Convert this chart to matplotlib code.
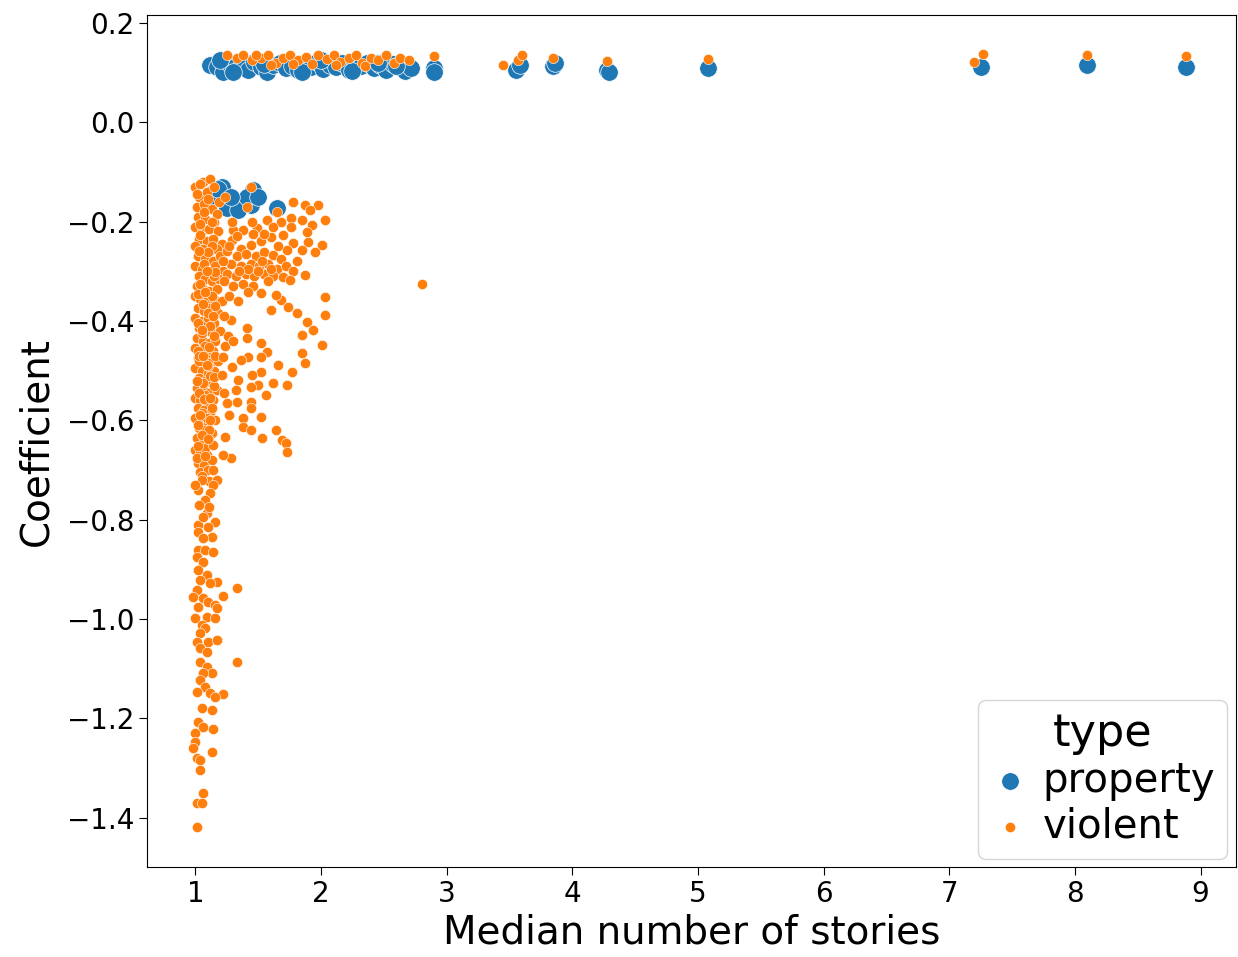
import matplotlib.pyplot as plt

# property (blue) points
prop_x = [1.12, 1.17, 1.22, 1.27, 1.32, 1.37, 1.42, 1.47, 1.52, 1.57, 1.62, 1.67,
          1.72, 1.77, 1.82, 1.87, 1.92, 1.97, 2.02, 2.07, 2.12, 2.17, 2.22, 2.27,
          2.32, 2.37, 2.42, 2.47, 2.52, 2.57, 2.62, 2.67, 2.72, 1.20, 1.30, 1.55,
          1.85, 2.00, 2.25, 2.45, 2.60, 2.90, 2.90, 3.55, 3.58, 3.85, 3.86, 4.28,
          4.29, 5.08, 7.25, 8.10, 8.88,
          1.21, 1.46, 1.65, 1.30, 1.44, 1.14, 1.25, 1.34, 1.12, 1.41, 1.18, 1.28, 1.50]
prop_y = [0.115, 0.110, 0.100, 0.120, 0.112, 0.118, 0.105, 0.122, 0.110, 0.100, 0.115,
          0.120, 0.108, 0.112, 0.104, 0.118, 0.110, 0.122, 0.106, 0.115, 0.110, 0.120,
          0.104, 0.116, 0.112, 0.120, 0.108, 0.115, 0.104, 0.118, 0.110, 0.102, 0.108,
          0.125, 0.100, 0.118, 0.100, 0.125, 0.102, 0.120, 0.112, 0.109, 0.100, 0.105,
          0.115, 0.112, 0.120, 0.105, 0.100, 0.109, 0.110, 0.115, 0.110,
          -0.131, -0.137, -0.173, -0.161, -0.167, -0.143, -0.173, -0.177, -0.157,
          -0.151, -0.135, -0.150, -0.150]

# violent (orange) points
viol_x = [
    # dense column near 1 story
    1.00, 1.06, 1.12, 1.03, 1.09, 1.15, 1.01, 1.07, 1.13, 1.19, 1.02, 1.08, 1.15, 1.00,
    1.05, 1.11, 1.18, 1.03, 1.09, 1.14, 1.21, 1.00, 1.06, 1.12, 1.17, 1.02, 1.08, 1.14,
    1.20, 1.00, 1.05, 1.10, 1.16, 1.22, 1.03, 1.08, 1.13, 1.19, 1.01, 1.06, 1.11, 1.17,
    1.00, 1.04, 1.09, 1.15, 1.21, 1.02, 1.07, 1.12, 1.18, 1.00, 1.05, 1.10, 1.15, 1.03,
    1.08, 1.13, 1.20, 1.01, 1.06, 1.11, 1.16, 1.00, 1.04, 1.09, 1.14, 1.02, 1.07, 1.12,
    1.18, 1.00, 1.05, 1.10, 1.15, 1.03, 1.08, 1.13, 1.01, 1.06, 1.11, 1.17, 1.00, 1.04,
    1.09, 1.14, 1.02, 1.07, 1.12, 1.00, 1.05, 1.10, 1.16, 1.03, 1.08, 1.13, 1.01, 1.06,
    1.11, 1.00, 1.04, 1.09, 1.02, 1.07, 1.13, 1.04, 1.10,
    1.04, 1.10, 1.17, 1.04, 1.13, 1.07, 1.15, 1.04, 1.13, 1.06, 1.16, 1.10, 1.02, 1.12,
    1.05, 1.15, 1.08, 1.02, 1.16, 1.10, 1.03, 1.12, 1.06, 1.15, 1.08, 1.03, 1.13, 1.05,
    1.09, 1.02, 1.11, 1.05, 1.08, 1.14, 1.01,
    1.01, 1.07, 1.13, 1.04, 1.10, 1.16, 1.02, 1.08, 1.14, 1.05, 1.11, 1.03, 1.09, 1.15,
    1.01, 1.07, 1.12, 1.04, 1.10, 1.02, 1.08, 1.14, 1.05, 1.11, 1.03, 1.09, 1.06, 1.12,
    # spread between 1.2 and 2.1 stories, upper part
    1.44, 1.24, 1.41, 1.65, 1.78, 1.87, 1.98, 1.91, 1.76, 1.85, 2.03, 1.57, 1.68, 1.93,
    1.76, 1.30, 1.38, 1.49, 1.29, 1.60, 1.89, 1.70, 1.78, 1.90, 2.01, 1.85, 1.95, 1.73,
    1.44, 1.36, 1.52, 1.25, 1.33, 1.40, 1.48, 1.55, 1.62, 1.68, 1.28, 1.36, 1.44, 1.51,
    1.58, 1.65, 1.72, 1.78, 1.25, 1.32, 1.40, 1.47, 1.55, 1.62, 1.70, 1.30, 1.38, 1.46,
    1.87, 1.27, 1.34, 1.23, 1.58, 1.81, 1.66, 1.55, 1.33, 1.46, 1.62,
    1.29, 1.42, 1.53, 1.75, 1.22, 1.50, 1.35, 1.60, 1.27, 1.45,
    # spread, lower part
    2.03, 2.03, 1.89, 1.94, 1.85, 2.01, 1.85, 1.68, 1.74, 1.60, 1.81, 1.52, 1.64, 1.41,
    1.41, 1.52, 1.57, 1.42, 1.28, 1.87, 1.77, 1.73, 1.66, 1.62, 1.56, 1.52, 1.50, 1.44,
    1.45, 1.52, 1.42, 1.36, 1.29, 1.34, 1.32, 1.33, 1.44, 1.44, 1.52, 1.38, 1.38, 1.44,
    1.64, 1.53, 1.69, 1.72, 1.73, 1.28, 1.22, 1.24, 1.21, 1.22, 1.25, 1.26, 1.24, 1.30,
    1.23, 1.27, 1.23,
    # lower column
    1.17, 1.14, 1.12, 1.09, 1.16, 1.02, 1.02, 1.13, 1.06, 1.02, 1.08, 1.14, 1.01, 1.06,
    1.02, 1.09, 1.04, 1.17, 1.12, 1.33, 1.01, 1.22, 0.98, 1.06, 1.10, 1.16, 1.02, 1.17,
    1.00, 1.09, 1.16, 1.05, 1.08, 1.04, 1.01, 1.10, 1.17, 1.04, 1.09, 1.33, 1.04, 1.09,
    1.13, 1.06, 1.04, 1.08, 1.01, 1.12, 1.22, 1.16, 1.05, 1.13, 1.02, 1.06, 1.14, 1.00,
    1.00, 0.98, 1.13, 1.01, 1.04, 1.04, 1.06, 1.01, 1.05, 1.01,
    1.05, 1.02, 1.08, 1.03, 1.06, 1.11, 1.00, 1.10,
    # outlier
    2.80,
    # top group
    1.25, 1.33, 1.38, 1.45, 1.52, 1.58, 1.64, 1.70, 1.75, 1.82, 1.88, 1.93, 1.98, 2.05,
    2.10, 2.15, 2.22, 2.28, 2.33, 2.40, 2.45, 2.52, 2.58, 2.63, 2.70, 1.60, 1.78, 2.35,
    2.12, 1.48, 2.90, 3.45, 3.57, 3.60, 3.85, 4.28, 5.08, 7.20, 7.27, 8.10, 8.88,
]
viol_y = [
    -0.130, -0.120, -0.115, -0.150, -0.140, -0.130, -0.170, -0.165, -0.175, -0.160,
    -0.190, -0.195, -0.200, -0.210, -0.220, -0.215, -0.220, -0.235, -0.240, -0.235,
    -0.245, -0.250, -0.255, -0.260, -0.255, -0.270, -0.275, -0.280, -0.270, -0.290,
    -0.295, -0.300, -0.290, -0.300, -0.310, -0.315, -0.320, -0.315, -0.330, -0.335,
    -0.340, -0.335, -0.350, -0.355, -0.360, -0.355, -0.360, -0.375, -0.380, -0.375,
    -0.385, -0.395, -0.400, -0.395, -0.405, -0.415, -0.420, -0.425, -0.420, -0.435,
    -0.440, -0.445, -0.440, -0.455, -0.460, -0.465, -0.460, -0.475, -0.480, -0.485,
    -0.480, -0.495, -0.500, -0.505, -0.500, -0.515, -0.520, -0.525, -0.535, -0.540,
    -0.545, -0.540, -0.555, -0.560, -0.565, -0.560, -0.575, -0.580, -0.585, -0.595,
    -0.600, -0.605, -0.600, -0.615, -0.620, -0.625, -0.635, -0.645, -0.640, -0.660,
    -0.665, -0.670, -0.685, -0.690, -0.680, -0.705, -0.700,
    -0.125, -0.155, -0.185, -0.205, -0.250, -0.285, -0.310, -0.325, -0.350, -0.365,
    -0.370, -0.385, -0.405, -0.410, -0.425, -0.430, -0.450, -0.460, -0.470, -0.490,
    -0.480, -0.510, -0.525, -0.530, -0.550, -0.545, -0.575, -0.585, -0.595, -0.610,
    -0.620, -0.630, -0.655, -0.650, -0.675,
    -0.145, -0.180, -0.200, -0.228, -0.262, -0.302, -0.345, -0.342, -0.390, -0.418,
    -0.452, -0.470, -0.488, -0.512, -0.520, -0.558, -0.600, -0.590, -0.638, -0.652,
    -0.672, -0.700, -0.712, -0.722, -0.260, -0.300, -0.470, -0.555,
    -0.131, -0.151, -0.171, -0.181, -0.161, -0.167, -0.167, -0.177, -0.193, -0.197,
    -0.197, -0.197, -0.200, -0.207, -0.211, -0.217, -0.217, -0.213, -0.237, -0.231,
    -0.221, -0.227, -0.243, -0.241, -0.247, -0.257, -0.261, -0.257, -0.247, -0.255,
    -0.240, -0.260, -0.270, -0.265, -0.270, -0.262, -0.268, -0.275, -0.285, -0.290,
    -0.285, -0.290, -0.285, -0.295, -0.290, -0.300, -0.305, -0.310, -0.305, -0.310,
    -0.305, -0.310, -0.312, -0.330, -0.325, -0.330, -0.308, -0.350, -0.360, -0.320,
    -0.320, -0.280, -0.250, -0.225, -0.230, -0.225, -0.210,
    -0.200, -0.295, -0.280, -0.318, -0.280, -0.300, -0.300, -0.295, -0.250, -0.200,
    -0.352, -0.388, -0.402, -0.419, -0.429, -0.449, -0.465, -0.358, -0.372, -0.378,
    -0.384, -0.344, -0.348, -0.415, -0.435, -0.445, -0.463, -0.342, -0.398, -0.485,
    -0.503, -0.529, -0.489, -0.525, -0.549, -0.503, -0.529, -0.533, -0.509, -0.473,
    -0.473, -0.479, -0.493, -0.519, -0.539, -0.563, -0.563, -0.575, -0.593, -0.595,
    -0.613, -0.620, -0.620, -0.636, -0.640, -0.646, -0.664, -0.676, -0.670, -0.634,
    -0.509, -0.473, -0.565, -0.430, -0.450, -0.440, -0.390, -0.590, -0.545,
    -0.720, -0.730, -0.746, -0.787, -0.805, -0.811, -0.825, -0.835, -0.837, -0.861,
    -0.861, -0.865, -0.875, -0.885, -0.901, -0.911, -0.922, -0.926, -0.928, -0.938,
    -0.942, -0.954, -0.956, -0.958, -0.966, -0.972, -0.976, -0.978, -0.998, -0.996,
    -0.998, -1.012, -1.018, -1.028, -1.046, -1.046, -1.042, -1.058, -1.066, -1.087,
    -1.087, -1.097, -1.109, -1.109, -1.123, -1.137, -1.147, -1.149, -1.151, -1.157,
    -1.179, -1.183, -1.207, -1.217, -1.221, -1.229, -1.247, -1.260, -1.268, -1.280,
    -1.284, -1.304, -1.350, -1.370, -1.370, -1.418,
    -0.720, -0.740, -0.760, -0.770, -0.795, -0.775, -0.730, -0.815,
    -0.325,
    0.135, 0.130, 0.135, 0.125, 0.130, 0.135, 0.120, 0.130, 0.135, 0.125, 0.132, 0.118,
    0.135, 0.128, 0.135, 0.122, 0.130, 0.135, 0.120, 0.130, 0.125, 0.135, 0.120, 0.130,
    0.125, 0.115, 0.118, 0.112, 0.115, 0.135, 0.133, 0.115, 0.125, 0.135, 0.130, 0.123,
    0.127, 0.121, 0.137, 0.135, 0.133,
]

fig = plt.figure(figsize=(12.38, 9.57), dpi=100)
ax = fig.add_axes([0.119, 0.094, 0.879, 0.890])

ax.scatter(prop_x, prop_y, s=160, color="#1f77b4", edgecolor="white", linewidth=0.5,
           label="property", zorder=2)
ax.scatter(viol_x, viol_y, s=55, color="#ff7f0e", edgecolor="white", linewidth=0.4,
           label="violent", zorder=3)

ax.set_xlim(0.618, 9.278)
ax.set_ylim(-1.499, 0.215)
ax.set_xticks(range(1, 10))
ax.set_yticks([0.2, 0.0, -0.2, -0.4, -0.6, -0.8, -1.0, -1.2, -1.4])
ax.tick_params(labelsize=20, length=6)
ax.set_xlabel("Median number of stories", fontsize=28, labelpad=4)
ax.set_ylabel("Coefficient", fontsize=28, labelpad=8)

leg = ax.legend(title="type", fontsize=29, title_fontsize=32, loc="lower right",
                borderaxespad=0.2, handletextpad=0.3, handlelength=1.0,
                labelspacing=0.15, borderpad=0.3)

fig.savefig("out.png", dpi=100)
